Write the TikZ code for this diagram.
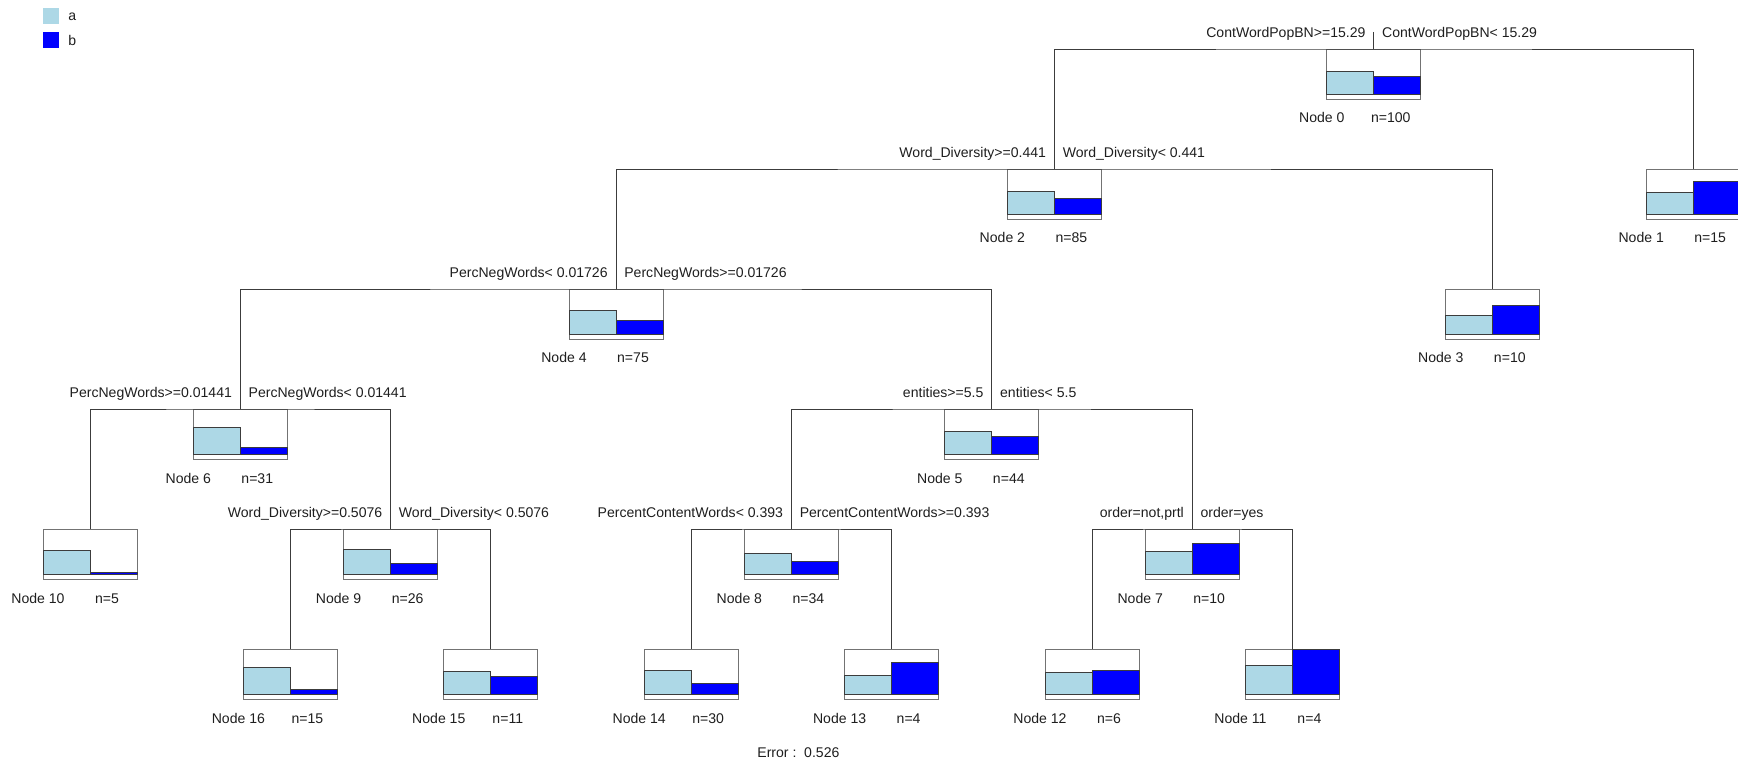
\documentclass[tikz,border=0pt]{standalone}
\usepackage{fontspec}
\setmainfont{Liberation Sans}
\usetikzlibrary{calc}
\definecolor{barA}{RGB}{173, 216, 230}
\definecolor{barB}{RGB}{0, 0, 255}
\definecolor{framegray}{RGB}{115, 115, 115}
\definecolor{linegray}{RGB}{60, 60, 60}
\definecolor{txtgray}{RGB}{30, 30, 30}

\tikzset{
  treebox/.style={draw=framegray, fill=white, line width=0.5pt,
    minimum width=1.88cm, minimum height=1cm, inner sep=0pt, outer sep=0pt},
  bar/.style={draw=linegray, line width=0.5pt},
  branch/.style={draw=linegray, line width=0.5pt},
  cond/.style={font=\fontsize{8}{9.6}\selectfont, text=txtgray, inner sep=0pt},
  info/.style={cond, anchor=base},
  key/.style={minimum size=0.32cm, inner sep=0pt},
}

% box with class bars: name, x, top, bar a, bar b, node no., n
\newcommand{\treenode}[7]{%
  \node[treebox] (#1) at (#2,#3+25) {};
  \filldraw[bar, fill=barA] (#2-47,#3+45) rectangle (#2,#3+45-#4);
  \filldraw[bar, fill=barB] (#2,#3+45) rectangle (#2+47,#3+45-#5);
  \node[info] (#1id) at (#2-52,#3+74) {Node #6};
  \node[info] (#1n) at (#2+17,#3+74) {n=#7};
}
% split text either side of the branch
\newcommand{\splitlbl}[3]{%
  \node[cond, anchor=base east] (#1l) at ($(#1.north)+(-8,-12)$) {#2};
  \node[cond, anchor=base west] (#1r) at ($(#1.north)+(8,-12)$) {#3};
}

\begin{document}
\begin{tikzpicture}[x=0.02cm, y=-0.02cm]
  \useasboundingbox (0,0) rectangle (1738,763);

  % legend
  \node[key, fill=barA] (keya) at (51,16) {};
  \node[key, fill=barB] (keyb) at (51,40) {};
  \node[cond, anchor=base west] (keyat) at (68,21) {a};
  \node[cond, anchor=base west] (keybt) at (68,46) {b};

  % boxes
  \treenode{n0}{1373.8}{49}{23}{18}{0}{100}
  \treenode{n1}{1693.2}{169}{22}{33}{1}{15}
  \treenode{n2}{1054.4}{169}{22.3}{15.3}{2}{85}
  \treenode{n3}{1492.8}{289}{18.7}{28.7}{3}{10}
  \treenode{n4}{616}{289}{23.6}{13.6}{4}{75}
  \treenode{n5}{991.8}{409}{23}{18}{5}{44}
  \treenode{n6}{240.3}{409}{26.3}{7}{6}{31}
  \treenode{n7}{1192.2}{529}{23}{31}{7}{10}
  \treenode{n8}{791.4}{529}{21}{13}{8}{34}
  \treenode{n9}{390.6}{529}{24.7}{10.7}{9}{26}
  \treenode{n10}{90}{529}{24}{2}{10}{5}
  \treenode{n11}{1292.4}{649}{28.7}{45}{11}{4}
  \treenode{n12}{1092}{649}{21.3}{23.3}{12}{6}
  \treenode{n13}{891.6}{649}{19}{32}{13}{4}
  \treenode{n14}{691.2}{649}{23.3}{11}{14}{30}
  \treenode{n15}{490.8}{649}{22.7}{17.7}{15}{11}
  \treenode{n16}{290.4}{649}{26.7}{5}{16}{15}

  % branches
  \coordinate (root) at (1373.8,32);
  \draw[branch] (root) -- (n0.north);
  \draw[branch] (n2.north) |- (n0.north) -| (n1.north);
  \draw[branch] (n4.north) |- (n2.north) -| (n3.north);
  \draw[branch] (n6.north) |- (n4.north) -| (n5.north);
  \draw[branch] (n10.north) |- (n6.north) -| (n9.north);
  \draw[branch] (n16.north) |- (n9.north) -| (n15.north);
  \draw[branch] (n8.north) |- (n5.north) -| (n7.north);
  \draw[branch] (n14.north) |- (n8.north) -| (n13.north);
  \draw[branch] (n12.north) |- (n7.north) -| (n11.north);

  % splits
  \splitlbl{n0}{ContWordPopBN>=15.29}{ContWordPopBN< 15.29}
  \splitlbl{n2}{Word\_Diversity>=0.441}{Word\_Diversity< 0.441}
  \splitlbl{n4}{PercNegWords< 0.01726}{PercNegWords>=0.01726}
  \splitlbl{n6}{PercNegWords>=0.01441}{PercNegWords< 0.01441}
  \splitlbl{n9}{Word\_Diversity>=0.5076}{Word\_Diversity< 0.5076}
  \splitlbl{n5}{entities>=5.5}{entities< 5.5}
  \splitlbl{n8}{PercentContentWords< 0.393}{PercentContentWords>=0.393}
  \splitlbl{n7}{order=not,prtl}{order=yes}

  \node[info] (err) at (798.4,757) {Error :\ \ 0.526};
\end{tikzpicture}
\end{document}
